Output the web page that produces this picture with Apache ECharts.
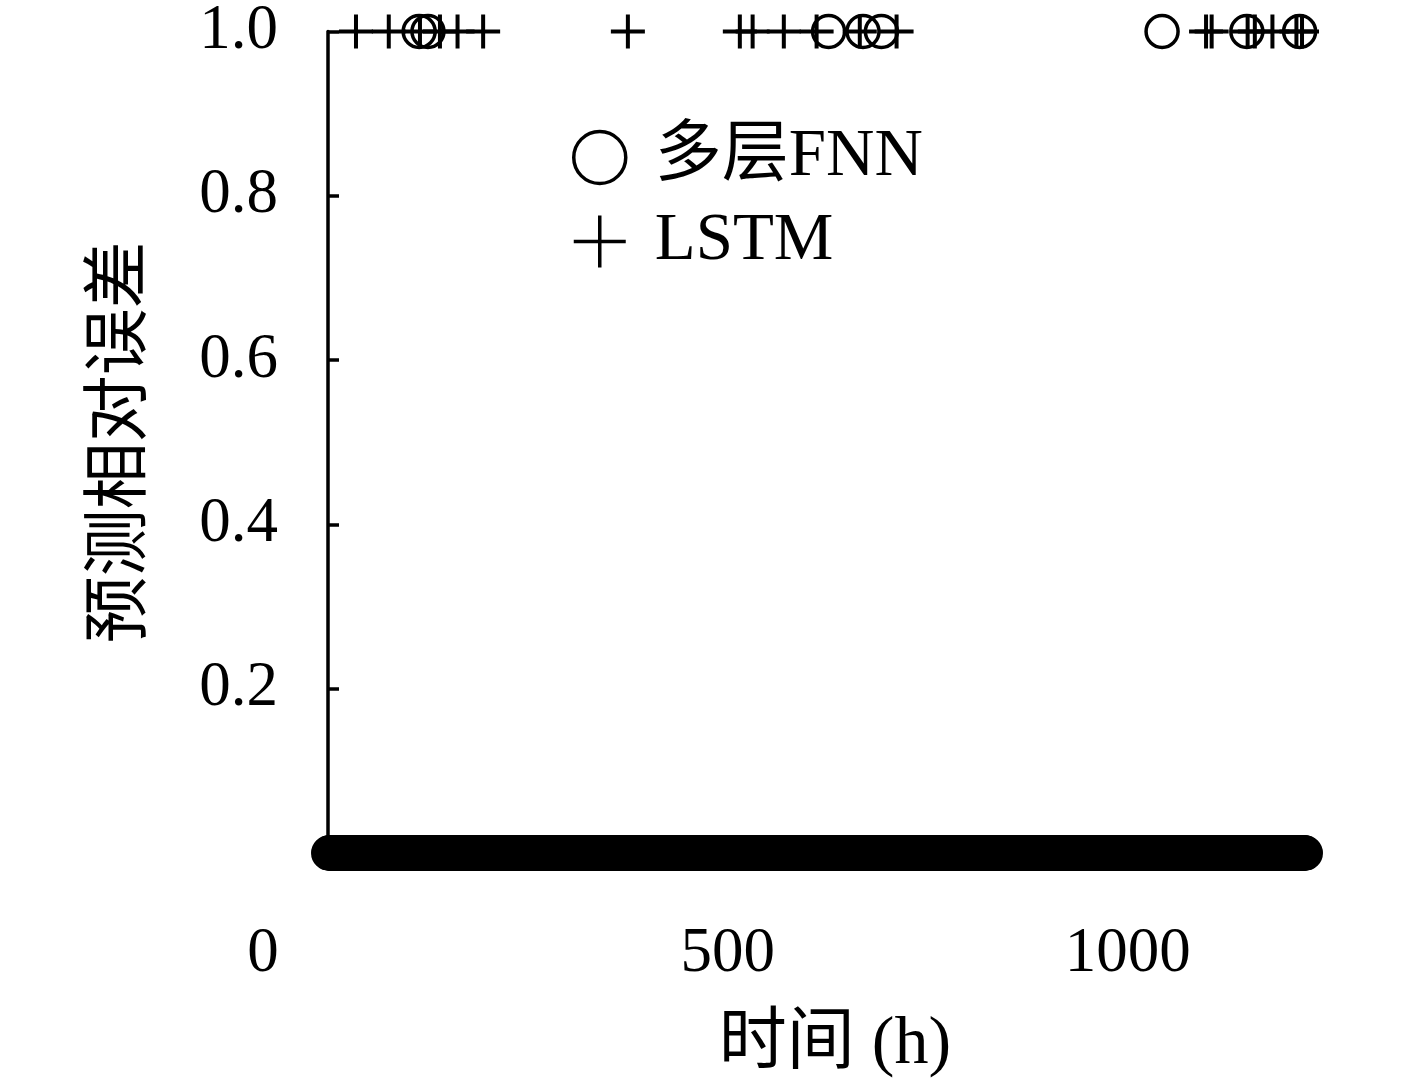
<!DOCTYPE html>
<html>
<head>
<meta charset="utf-8">
<script src="https://cdn.jsdelivr.net/npm/echarts@6/dist/echarts.min.js"></script>
<style>
  html, body { margin: 0; padding: 0; background: #fff; }
  #chart { width: 1417px; height: 1087px; }
</style>
</head>
<body>
<div id="chart"></div>
<script>
// 采样小时数 (每小时一个点)
var hourCount = 1222
// 预测相对误差为 1.0 的时刻 (h), 其余时刻误差约为 0
var fnnSpikeHours = [114, 125, 626, 669, 692, 1043, 1149, 1215]
var lstmSpikeHours = [35, 76, 115, 140, 162, 194, 375, 515, 531, 570, 611, 665, 711, 1098, 1105, 1150, 1159, 1181, 1211, 1218]
var spikeValue = 1.0
var baseValue = 0
var xTicks = [0, 500, 1000]
var yTicks = [0.2, 0.4, 0.6, 0.8, 1.0]

var serif = "'Liberation Serif', 'DejaVu Serif', 'Noto Sans CJK SC', serif"
var plusPath = 'path://M0,-10V10M-10,0H10'

function buildData(spikes) {
  var data = []
  for (var h = 1; h <= hourCount; h++) {
    data.push([h, spikes.indexOf(h) >= 0 ? spikeValue : baseValue])
  }
  return data
}

var myChart = echarts.init(document.getElementById('chart'))
var option = {
  animation: false,
  backgroundColor: '#fff',
  grid: {
    left: 328,
    right: 75,
    top: 27,
    bottom: 234,
    containLabel: false
  },
  legend: {
    orient: 'vertical',
    left: 567,
    top: 119,
    itemWidth: 60,
    itemHeight: 52,
    itemGap: 17,
    textStyle: {
      fontFamily: serif,
      fontSize: 67,
      color: '#000',
      padding: [0, 0, 0, 20]
    },
    data: [
      { name: '多层FNN', icon: 'circle', itemStyle: { color: 'transparent', borderColor: '#000', borderWidth: 3.5, opacity: 1 } },
      { name: 'LSTM', icon: plusPath, itemStyle: { color: 'transparent', borderColor: '#000', borderWidth: 3.5, opacity: 1 } }
    ]
  },
  xAxis: {
    type: 'value',
    min: 0,
    max: 1268,
    interval: 500,
    name: '时间 (h)',
    nameLocation: 'middle',
    nameGap: 158,
    nameTextStyle: { fontFamily: serif, fontSize: 68, color: '#000' },
    axisLine: { show: false },
    axisTick: { show: false },
    splitLine: { show: false },
    axisLabel: {
      margin: 70,
      fontFamily: serif,
      fontSize: 63,
      color: '#000',
      formatter: function (v) {
        if (xTicks.indexOf(v) < 0) return ''
        return v === 0 ? '{z|0}' : String(v)
      },
      rich: {
        z: { fontFamily: serif, fontSize: 63, color: '#000', padding: [0, 130, 0, 0] }
      }
    }
  },
  yAxis: {
    type: 'value',
    min: 0,
    max: 1,
    interval: 0.2,
    name: '预测相对误差',
    nameLocation: 'middle',
    nameGap: 172,
    nameRotate: 90,
    nameTextStyle: { fontFamily: serif, fontSize: 67, color: '#000' },
    axisLine: { show: true, lineStyle: { color: '#000', width: 3.5 } },
    axisTick: { show: true, inside: true, length: 11, lineStyle: { color: '#000', width: 3.5 } },
    splitLine: { show: false },
    axisLabel: {
      margin: 50,
      fontFamily: serif,
      fontSize: 63,
      color: '#000',
      formatter: function (v) {
        var r = Math.round(v * 10) / 10
        return yTicks.indexOf(r) >= 0 ? r.toFixed(1) : ''
      }
    }
  },
  series: [
    {
      name: '多层FNN',
      type: 'scatter',
      symbol: 'circle',
      symbolSize: 32,
      clip: false,
      itemStyle: { color: 'transparent', borderColor: '#000', borderWidth: 3.5, opacity: 1 },
      data: buildData(fnnSpikeHours)
    },
    {
      name: 'LSTM',
      type: 'scatter',
      symbol: plusPath,
      symbolSize: 34,
      clip: false,
      itemStyle: { color: 'transparent', borderColor: '#000', borderWidth: 4, opacity: 1 },
      data: buildData(lstmSpikeHours)
    }
  ]
}

option && myChart.setOption(option)
</script>
</body>
</html>
